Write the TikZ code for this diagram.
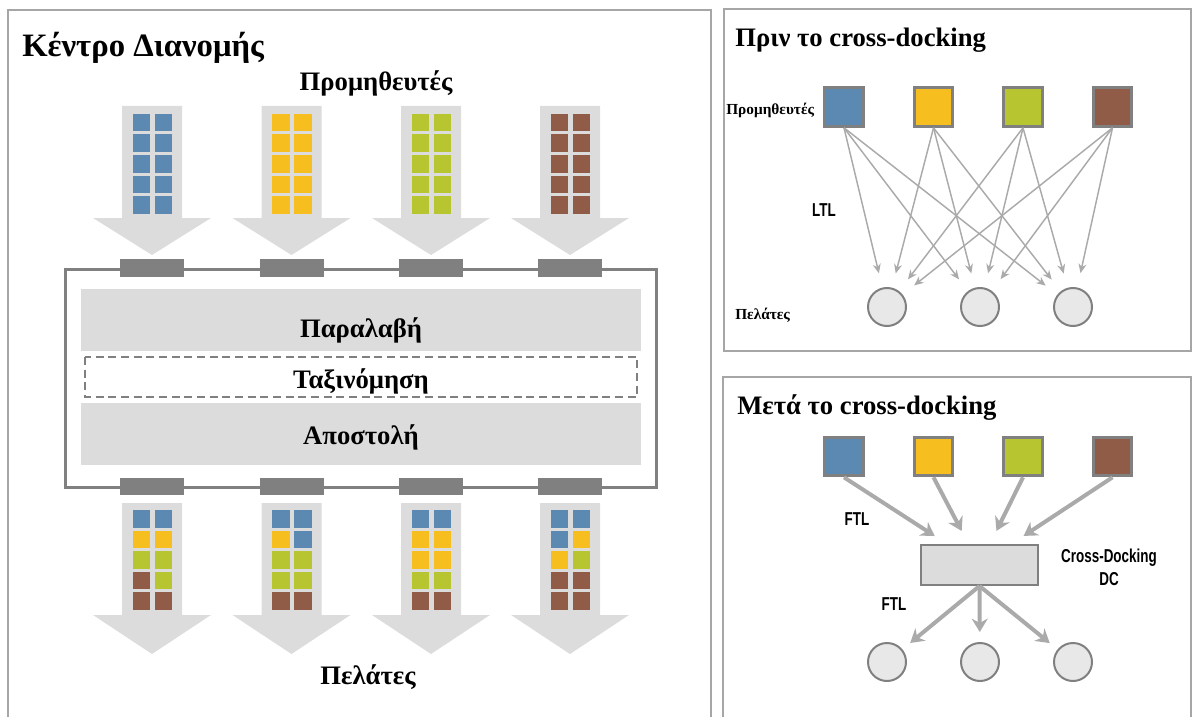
\documentclass[tikz,border=0pt]{standalone}
\usepackage{fontspec}
\setmainfont{Liberation Serif}
\newfontfamily\narrowfont[FakeStretch=0.72]{Liberation Sans}
\usetikzlibrary{arrows.meta}

\definecolor{supblue}{RGB}{91,137,177}
\definecolor{supyellow}{RGB}{246,190,30}
\definecolor{supgreen}{RGB}{183,197,49}
\definecolor{supbrown}{RGB}{144,91,71}
\definecolor{flowgray}{RGB}{220,220,220}
\definecolor{dockgray}{RGB}{128,128,128}
\definecolor{framegray}{RGB}{166,166,166}
\definecolor{linkgray}{RGB}{170,170,170}
\definecolor{custfill}{RGB}{232,232,232}

\tikzset{
  panel/.style={draw=framegray, line width=1.5pt},
  bigtitle/.style={font=\bfseries\fontsize{24.5}{28}\selectfont, anchor=base west, inner sep=0},
  paneltitle/.style={font=\bfseries\fontsize{20}{24}\selectfont, anchor=base west, inner sep=0},
  stagetext/.style={font=\bfseries\fontsize{20}{24}\selectfont, anchor=base, inner sep=0},
  smalllabel/.style={font=\bfseries\fontsize{11.5}{13}\selectfont, anchor=base west, inner sep=0},
  modetext/.style={font=\narrowfont\bfseries\fontsize{14}{17}\selectfont, inner sep=0},
  supbox/.style={rectangle, draw=dockgray, line width=2.25pt, minimum size=29pt, inner sep=0},
  custnode/.style={circle, draw=dockgray, line width=1.5pt, fill=custfill, minimum size=28.5pt, inner sep=0},
  dcbox/.style={rectangle, draw=dockgray, line width=1.5pt, fill=flowgray, minimum width=88pt, minimum height=30pt, inner sep=0},
  thinlink/.style={draw=linkgray, line width=1.1pt, -{Stealth[length=7pt,width=6pt]}, shorten >=11pt},
  thicklink/.style={draw=linkgray, line width=3pt, -{Stealth[length=10pt,width=12pt]}, shorten >=11pt}
}

\begin{document}
\begin{tikzpicture}[x=0.75pt, y=-0.75pt]
  \useasboundingbox (0,0) rectangle (1193,717);

  % frames
  \draw[panel] (8,717) -- (8,10) -- (711,10) -- (711,717);
  \draw[panel] (724,9) rectangle (1191,351);
  \draw[panel] (723,717) -- (723,377) -- (1191,377) -- (1191,717);

  % distribution centre
  \node[bigtitle] (dctitle) at (22,57) {Κέντρο Διανομής};
  \node[stagetext] (suppliers) at (376,91) {Προμηθευτές};

  \foreach \cx/\sq in {152/supblue, 291.5/supyellow, 431/supgreen, 570/supbrown} {
    \fill[flowgray] (\cx-30,106) -- (\cx+30,106) -- (\cx+30,218) -- (\cx+59,218)
      -- (\cx,255) -- (\cx-59,218) -- (\cx-30,218) -- cycle;
    \foreach \rowi in {0,...,4}
      \foreach \coli in {0,1}
        \fill[\sq] (\cx-19.5+22*\coli, 114+20.5*\rowi) rectangle ++(17.5,17.5);
  }

  \draw[dockgray, line width=2.25pt] (65,269) rectangle (656,487);
  \foreach \cx in {152, 291.5, 431, 570} {
    \fill[dockgray] (\cx-32,259) rectangle (\cx+32,277);
    \fill[dockgray] (\cx-32,478) rectangle (\cx+32,495);
  }

  \fill[flowgray] (81,289) rectangle (641,351);
  \draw[dockgray, dashed, line width=1.2pt, dash pattern=on 6pt off 3.5pt] (85,357) rectangle (637,397);
  \fill[flowgray] (81,403) rectangle (641,465);
  \node[stagetext] (receive) at (361,337) {Παραλαβή};
  \node[stagetext] (sorting) at (361,388) {Ταξινόμηση};
  \node[stagetext] (dispatch) at (361,444) {Αποστολή};

  \foreach \cx/\mix in {
      152/{supblue,supblue,supyellow,supyellow,supgreen,supgreen,supbrown,supgreen,supbrown,supbrown},
      291.5/{supblue,supblue,supyellow,supblue,supgreen,supgreen,supgreen,supgreen,supbrown,supbrown},
      431/{supblue,supblue,supyellow,supyellow,supyellow,supyellow,supgreen,supgreen,supbrown,supbrown},
      570/{supblue,supblue,supblue,supyellow,supyellow,supgreen,supbrown,supbrown,supbrown,supbrown}} {
    \fill[flowgray] (\cx-30,503) -- (\cx+30,503) -- (\cx+30,615) -- (\cx+59,615)
      -- (\cx,654) -- (\cx-59,615) -- (\cx-30,615) -- cycle;
    \foreach \sq [count=\k from 0] in \mix {
      \pgfmathtruncatemacro{\rowi}{\k/2}
      \pgfmathtruncatemacro{\coli}{mod(\k,2)}
      \fill[\sq] (\cx-19.5+22*\coli, 510+20.5*\rowi) rectangle ++(17.5,17.5);
    }
  }
  \node[stagetext] (customers) at (368,684) {Πελάτες};

  % before cross-docking
  \node[paneltitle] (beforetitle) at (735,47) {Πριν το cross-docking};
  \foreach \i/\sq in {1/supblue, 2/supyellow, 3/supgreen, 4/supbrown}
    \node[supbox, fill=\sq] (pa\i) at (754.5+89.5*\i, 107) {};
  \foreach \i in {1,2,3}
    \node[custnode] (ca\i) at (794+93*\i, 307) {};
  \node[smalllabel] (supa) at (726,114) {Προμηθευτές};
  \node[smalllabel] (custa) at (735,319) {Πελάτες};
  \node[modetext] (ltl) at (824,210) {LTL};
  \foreach \s in {1,...,4}
    \foreach \c in {1,2,3}
      \draw[thinlink] (pa\s.south) -- (ca\c);

  % after cross-docking
  \node[paneltitle] (aftertitle) at (737,414) {Μετά το cross-docking};
  \foreach \i/\sq in {1/supblue, 2/supyellow, 3/supgreen, 4/supbrown}
    \node[supbox, fill=\sq] (pb\i) at (754.5+89.5*\i, 456.5) {};
  \node[dcbox] (dc) at (979.5,565) {};
  \foreach \i in {1,2,3}
    \node[custnode] (cb\i) at (794+93*\i, 662) {};
  \node[modetext, align=center] (dclabel) at (1109,567) {Cross-Docking\\DC};
  \node[modetext] (ftlin) at (857,519) {FTL};
  \node[modetext] (ftlout) at (894,604) {FTL};
  \foreach \i in {1,...,4}
    \draw[thicklink] (pb\i.south) -- (dc);
  \foreach \i in {1,2,3}
    \draw[thicklink, shorten >=7.5pt] (dc.south) -- (cb\i);
\end{tikzpicture}
\end{document}
